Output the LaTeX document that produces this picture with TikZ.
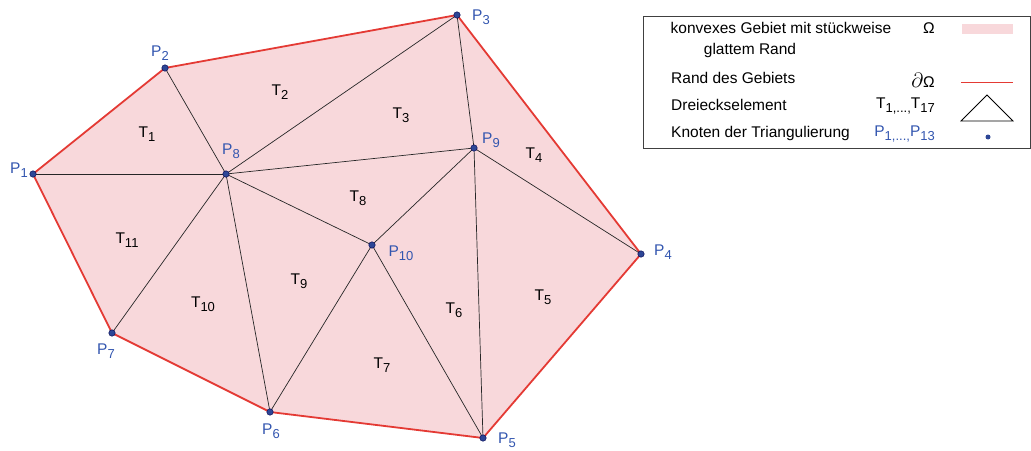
\documentclass[tikz,border=0pt]{standalone}
\usepackage{fontspec}
\setmainfont{Liberation Sans}
\definecolor{pinkfill}{RGB}{248,216,219}
\definecolor{bordred}{RGB}{228,58,52}
\definecolor{dotblue}{RGB}{45,70,150}
\definecolor{labblue}{RGB}{50,85,175}
\newcommand\sbx[2]{#1\raisebox{-0.5ex}{\fontsize{13}{13}\selectfont #2}}
\tikzset{
  edge/.style={draw=black!85, line width=0.7pt},
  bound/.style={draw=bordred, line width=1.8pt, line join=round},
  ptdot/.style={circle, fill=dotblue, draw=black!70!blue, line width=0.4pt, inner sep=0pt, minimum size=6.5pt},
  plab/.style={text=labblue, font=\fontsize{15.5}{15.5}\selectfont, inner sep=0pt},
  tlab/.style={text=black, font=\fontsize{15.5}{15.5}\selectfont, inner sep=0pt},
  legtext/.style={font=\fontsize{15.5}{15.5}\selectfont, inner sep=0pt}
}
\begin{document}
\begin{tikzpicture}[x=1pt,y=-1pt]
\useasboundingbox (0,0) rectangle (1031,450);
% points
\coordinate (p1) at (33,174);
\coordinate (p2) at (165,68);
\coordinate (p3) at (457,15);
\coordinate (p4) at (641,254);
\coordinate (p5) at (483,438);
\coordinate (p6) at (270,412);
\coordinate (p7) at (112,333);
\coordinate (p8) at (226,174);
\coordinate (p9) at (474,148);
\coordinate (p10) at (372,245);
% domain
\fill[pinkfill] (p1)--(p2)--(p3)--(p4)--(p5)--(p6)--(p7)--cycle;
% interior edges
\draw[edge] (p1)--(p8);
\draw[edge] (p2)--(p8);
\draw[edge] (p3)--(p8);
\draw[edge] (p9)--(p8);
\draw[edge] (p3)--(p9);
\draw[edge] (p9)--(p4);
\draw[edge] (p9)--(p5);
\draw[edge] (p9)--(p10);
\draw[edge] (p8)--(p10);
\draw[edge] (p10)--(p5);
\draw[edge] (p10)--(p6);
\draw[edge] (p8)--(p6);
\draw[edge] (p8)--(p7);
% boundary
\draw[bound] (p1)--(p2)--(p3)--(p4)--(p5)--(p6)--(p7)--cycle;
% dots
\foreach \p in {p1,p2,p3,p4,p5,p6,p7,p8,p9,p10} \node[ptdot] (d\p) at (\p) {};
% point labels
\node[plab] (l1) at (19,170) {\sbx{P}{1}};
\node[plab] (l2) at (160,53) {\sbx{P}{2}};
\node[plab] (l3) at (481,17) {\sbx{P}{3}};
\node[plab] (l4) at (663,252) {\sbx{P}{4}};
\node[plab] (l5) at (507,440) {\sbx{P}{5}};
\node[plab] (l6) at (271,431) {\sbx{P}{6}};
\node[plab] (l7) at (106,351) {\sbx{P}{7}};
\node[plab] (l8) at (231,151) {\sbx{P}{8}};
\node[plab] (l9) at (491,140) {\sbx{P}{9}};
\node[plab] (l10) at (401,253) {\sbx{P}{10}};
% triangle labels
\node[tlab] (t1) at (147,134) {\sbx{T}{1}};
\node[tlab] (t2) at (280,92) {\sbx{T}{2}};
\node[tlab] (t3) at (401,115) {\sbx{T}{3}};
\node[tlab] (t4) at (534,155) {\sbx{T}{4}};
\node[tlab] (t5) at (543,297) {\sbx{T}{5}};
\node[tlab] (t6) at (454,310) {\sbx{T}{6}};
\node[tlab] (t7) at (382,365) {\sbx{T}{7}};
\node[tlab] (t8) at (358,198) {\sbx{T}{8}};
\node[tlab] (t9) at (299,281) {\sbx{T}{9}};
\node[tlab] (t10) at (203,304) {\sbx{T}{10}};
\node[tlab] (t11) at (127,240) {\sbx{T}{11}};
% legend
\draw[line width=0.8pt, draw=black!75] (643,16) rectangle (1030.5,148);
\node[legtext] (lg1) at (781,28) {konvexes Gebiet mit stückweise};
\node[legtext] (lg1b) at (750,50) {glattem Rand};
\node[legtext, anchor=east] (lgo) at (935,28) {Ω};
\fill[pinkfill] (962,24) rectangle (1013,34);
\node[legtext, anchor=west] (lg2) at (671,78) {Rand des Gebiets};
\node[legtext, anchor=east] (lgdo) at (935,80) {{\fontsize{21}{21}\selectfont$\partial$}Ω};
\draw[bordred, line width=0.8pt] (961,82) -- (1013,82);
\node[legtext, anchor=west] (lg3) at (671,105) {Dreieckselement};
\node[legtext, anchor=east] (lgt) at (935,106) {\sbx{T}{1,...,}\sbx{T}{17}};
\draw[line width=0.8pt] (961,121) -- (987,95) -- (1013,121) -- cycle;
\node[legtext, anchor=west] (lg4) at (671,133) {Knoten der Triangulierung};
\node[legtext, anchor=east, text=labblue] (lgp) at (935,134) {\sbx{P}{1,...,}\sbx{P}{13}};
\node[circle, fill=dotblue, inner sep=0pt, minimum size=5pt] (lgdot) at (988,137) {};
\end{tikzpicture}
\end{document}
